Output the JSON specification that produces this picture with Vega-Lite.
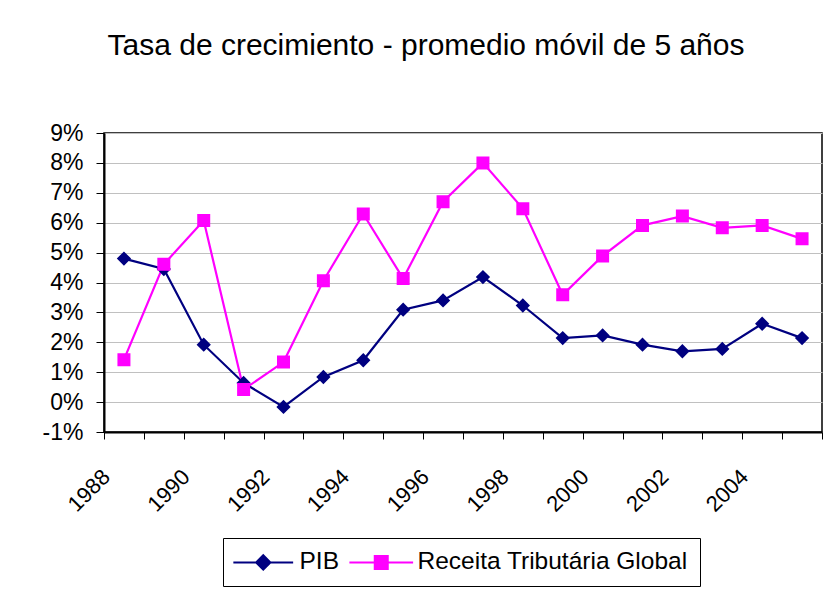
{
  "$schema": "https://vega.github.io/schema/vega-lite/v6.json",
  "autosize": {"type": "none"},
  "padding": {"left": 104, "top": 133, "right": 9, "bottom": 159},
  "width": 718,
  "height": 299,
  "background": "white",
  "title": {
    "text": "Tasa de crecimiento - promedio móvil de 5 años",
    "font": "Liberation Sans",
    "fontSize": 30,
    "fontWeight": "normal",
    "color": "#000000",
    "anchor": "middle",
    "baseline": "alphabetic",
    "offset": 37,
    "dx": -37
  },
  "data": {
    "values": [
      {"year": 1988, "series": "PIB", "value": 4.8},
      {"year": 1989, "series": "PIB", "value": 4.45},
      {"year": 1990, "series": "PIB", "value": 1.92},
      {"year": 1991, "series": "PIB", "value": 0.64},
      {"year": 1992, "series": "PIB", "value": -0.16},
      {"year": 1993, "series": "PIB", "value": 0.84},
      {"year": 1994, "series": "PIB", "value": 1.4},
      {"year": 1995, "series": "PIB", "value": 3.09},
      {"year": 1996, "series": "PIB", "value": 3.4},
      {"year": 1997, "series": "PIB", "value": 4.18},
      {"year": 1998, "series": "PIB", "value": 3.23},
      {"year": 1999, "series": "PIB", "value": 2.14},
      {"year": 2000, "series": "PIB", "value": 2.23},
      {"year": 2001, "series": "PIB", "value": 1.92},
      {"year": 2002, "series": "PIB", "value": 1.7},
      {"year": 2003, "series": "PIB", "value": 1.78},
      {"year": 2004, "series": "PIB", "value": 2.62},
      {"year": 2005, "series": "PIB", "value": 2.14},
      {"year": 1988, "series": "Receita Tributária Global", "value": 1.42},
      {"year": 1989, "series": "Receita Tributária Global", "value": 4.61},
      {"year": 1990, "series": "Receita Tributária Global", "value": 6.07},
      {"year": 1991, "series": "Receita Tributária Global", "value": 0.42},
      {"year": 1992, "series": "Receita Tributária Global", "value": 1.34},
      {"year": 1993, "series": "Receita Tributária Global", "value": 4.06},
      {"year": 1994, "series": "Receita Tributária Global", "value": 6.29},
      {"year": 1995, "series": "Receita Tributária Global", "value": 4.13},
      {"year": 1996, "series": "Receita Tributária Global", "value": 6.7},
      {"year": 1997, "series": "Receita Tributária Global", "value": 8.0},
      {"year": 1998, "series": "Receita Tributária Global", "value": 6.47},
      {"year": 1999, "series": "Receita Tributária Global", "value": 3.59},
      {"year": 2000, "series": "Receita Tributária Global", "value": 4.89},
      {"year": 2001, "series": "Receita Tributária Global", "value": 5.91},
      {"year": 2002, "series": "Receita Tributária Global", "value": 6.22},
      {"year": 2003, "series": "Receita Tributária Global", "value": 5.83},
      {"year": 2004, "series": "Receita Tributária Global", "value": 5.91},
      {"year": 2005, "series": "Receita Tributária Global", "value": 5.46}
    ]
  },
  "encoding": {
    "x": {
      "field": "year",
      "type": "quantitative",
      "scale": {"domain": [1987.5, 2005.5], "nice": false, "zero": false},
      "axis": {
        "title": null,
        "values": [1987.5, 1988, 1988.5, 1989.5, 1990, 1990.5, 1991.5, 1992, 1992.5, 1993.5, 1994, 1994.5, 1995.5, 1996, 1996.5, 1997.5, 1998, 1998.5, 1999.5, 2000, 2000.5, 2001.5, 2002, 2002.5, 2003.5, 2004, 2004.5, 2005.5],
        "labelExpr": "datum.value % 1 == 0 ? '' + datum.value : ''",
        "tickOpacity": {"condition": {"test": "datum.value % 1 == 0", "value": 0}, "value": 1},
        "grid": false,
        "domain": true,
        "domainColor": "#000000",
        "domainWidth": 2,
        "tickColor": "#000000",
        "tickSize": 7,
        "tickWidth": 1,
        "labelAngle": -45,
        "labelAlign": "right",
        "labelBaseline": "middle",
        "labelPadding": 34,
        "labelOffset": -18,
        "labelFont": "Liberation Sans",
        "labelFontSize": 22,
        "labelColor": "#000000",
        "labelOverlap": false,
        "labelBound": false,
        "labelFlush": false
      }
    },
    "y": {
      "field": "value",
      "type": "quantitative",
      "scale": {"domain": [-1, 9], "nice": false, "zero": false},
      "axis": {
        "title": null,
        "values": [-1, 0, 1, 2, 3, 4, 5, 6, 7, 8, 9],
        "labelExpr": "datum.value + '%'",
        "grid": true,
        "gridColor": "#c0c0c0",
        "gridWidth": 1,
        "domain": true,
        "domainColor": "#000000",
        "domainWidth": 2,
        "tickColor": "#000000",
        "tickSize": 8,
        "tickWidth": 1,
        "labelPadding": 13,
        "labelFont": "Liberation Sans",
        "labelFontSize": 23,
        "labelColor": "#000000",
        "labelOverlap": false,
        "labelBound": false,
        "labelFlush": false
      }
    },
    "color": {
      "field": "series",
      "type": "nominal",
      "scale": {"domain": ["PIB", "Receita Tributária Global"], "range": ["#000080", "#FF00FF"]},
      "legend": {"title": null}
    }
  },
  "layer": [
    {
      "mark": {"type": "line", "strokeWidth": 2.2}
    },
    {
      "mark": {"type": "point", "filled": true, "size": 169, "opacity": 1},
      "encoding": {
        "shape": {
          "field": "series",
          "type": "nominal",
          "scale": {
            "domain": ["PIB", "Receita Tributária Global"],
            "range": ["M-4.6,0H4.6M0,-1.1L1.1,0L0,1.1L-1.1,0Z", "M-4.9,0H4.9M-1,-1H1V1H-1Z"]
          },
          "legend": {"title": null}
        }
      }
    }
  ],
  "config": {
    "view": {"stroke": "#000000", "strokeWidth": 1.5},
    "legend": {
      "orient": "none",
      "legendX": 119,
      "legendY": 405,
      "direction": "horizontal",
      "strokeColor": "#000000",
      "fillColor": "#ffffff",
      "padding": 12,
      "symbolSize": 169,
      "symbolStrokeWidth": 2,
      "symbolOffset": 16,
      "labelOffset": 24,
      "columnPadding": 6,
      "labelFont": "Liberation Sans",
      "labelFontSize": 24.5,
      "labelColor": "#000000",
      "labelLimit": 0
    }
  }
}
